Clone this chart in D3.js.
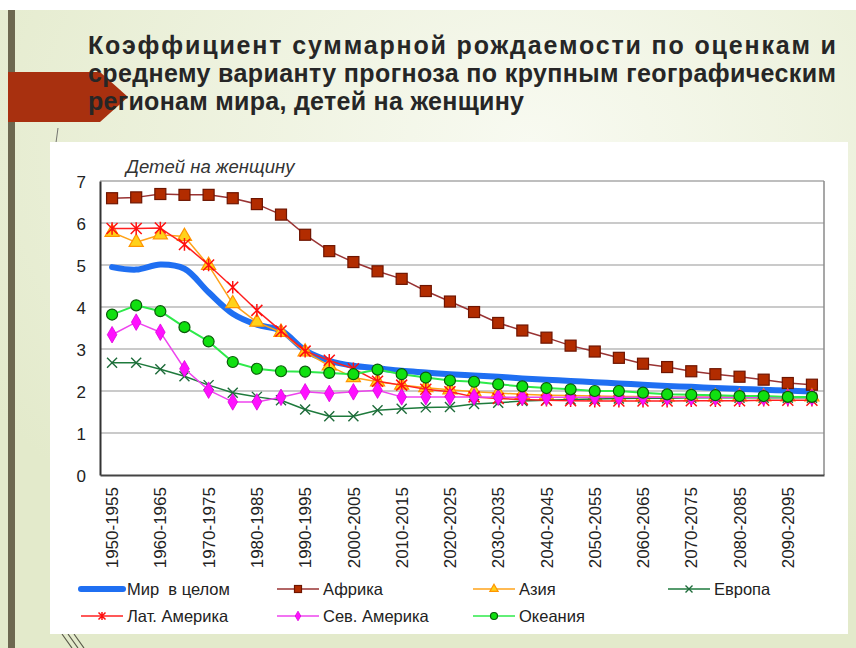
<!DOCTYPE html>
<html>
<head>
<meta charset="utf-8">
<script src="https://cdn.jsdelivr.net/npm/d3@7"></script>
<style>
  body { margin: 0; overflow: hidden; }
  text { font-family: "Liberation Sans", Arial, sans-serif; }
</style>
</head>
<body>
<div id="chart"></div>
<script>
var w = 856;
var h = 648;

// periods (x categories)
var categories = [
  "1950-1955", "1955-1960", "1960-1965", "1965-1970", "1970-1975", "1975-1980",
  "1980-1985", "1985-1990", "1990-1995", "1995-2000", "2000-2005", "2005-2010",
  "2010-2015", "2015-2020", "2020-2025", "2025-2030", "2030-2035", "2035-2040",
  "2040-2045", "2045-2050", "2050-2055", "2055-2060", "2060-2065", "2065-2070",
  "2070-2075", "2075-2080", "2080-2085", "2085-2090", "2090-2095", "2095-2100"
];
var tickLabels = [
  "1950-1955", "1960-1965", "1970-1975", "1980-1985", "1990-1995",
  "2000-2005", "2010-2015", "2020-2025", "2030-2035", "2040-2045",
  "2050-2055", "2060-2065", "2070-2075", "2080-2085", "2090-2095"
];
var yTicks = [0, 1, 2, 3, 4, 5, 6, 7];

// children per woman
var world = [4.95, 4.89, 5.01, 4.91, 4.35, 3.84, 3.58, 3.44, 2.97, 2.72, 2.60, 2.54, 2.48, 2.44, 2.40,
  2.37, 2.34, 2.30, 2.27, 2.24, 2.21, 2.18, 2.15, 2.12, 2.10, 2.07, 2.05, 2.03, 2.01, 1.99];
var africa = [6.59, 6.61, 6.69, 6.67, 6.67, 6.59, 6.45, 6.20, 5.72, 5.33, 5.07, 4.85, 4.67, 4.38, 4.13,
  3.88, 3.62, 3.44, 3.27, 3.08, 2.94, 2.79, 2.65, 2.57, 2.47, 2.40, 2.34, 2.27, 2.19, 2.15];
var asia = [5.78, 5.54, 5.72, 5.68, 4.99, 4.08, 3.64, 3.40, 2.93, 2.60, 2.32, 2.22, 2.14, 2.08, 2.03,
  1.98, 1.95, 1.92, 1.90, 1.89, 1.88, 1.87, 1.87, 1.86, 1.86, 1.86, 1.86, 1.86, 1.86, 1.86];
var europe = [2.67, 2.67, 2.52, 2.35, 2.14, 1.96, 1.86, 1.78, 1.56, 1.40, 1.40, 1.54, 1.58, 1.61, 1.62,
  1.69, 1.72, 1.76, 1.78, 1.80, 1.81, 1.82, 1.83, 1.83, 1.84, 1.84, 1.84, 1.84, 1.84, 1.84];
var latAmerica = [5.87, 5.87, 5.88, 5.49, 5.00, 4.47, 3.92, 3.43, 2.95, 2.73, 2.53, 2.23, 2.14, 2.04, 1.98,
  1.86, 1.82, 1.80, 1.78, 1.77, 1.76, 1.76, 1.76, 1.76, 1.77, 1.77, 1.77, 1.78, 1.78, 1.78];
var northAmerica = [3.34, 3.64, 3.40, 2.53, 2.02, 1.74, 1.74, 1.85, 1.98, 1.94, 1.98, 2.02, 1.86, 1.86, 1.86,
  1.86, 1.85, 1.85, 1.85, 1.85, 1.85, 1.85, 1.85, 1.85, 1.85, 1.85, 1.85, 1.85, 1.85, 1.85];
var oceania = [3.82, 4.04, 3.90, 3.52, 3.18, 2.69, 2.53, 2.47, 2.46, 2.43, 2.40, 2.51, 2.40, 2.32, 2.25,
  2.22, 2.16, 2.11, 2.07, 2.04, 2.00, 2.00, 1.96, 1.92, 1.91, 1.90, 1.88, 1.88, 1.86, 1.86];

var seriesNames = ["Мир  в целом", "Африка", "Азия", "Европа", "Лат. Америка", "Сев. Америка", "Океания"];

var titleLines = [
  "Коэффициент суммарной рождаемости по оценкам и",
  "среднему варианту прогноза по крупным географическим",
  "регионам мира, детей на женщину"
];
var yTitle = "Детей на женщину";

var series = [
  { name: seriesNames[0], values: world, color: "#1f6ff2", width: 6, marker: null, smooth: true },
  { name: seriesNames[1], values: africa, color: "#993333", width: 1.5, marker: "square", fill: "#b22c00", stroke: "#6e1500" },
  { name: seriesNames[2], values: asia, color: "#ffa31a", width: 1.5, marker: "triangle", fill: "#ffd21a", stroke: "#ff9500" },
  { name: seriesNames[3], values: europe, color: "#1e7a3c", width: 1.5, marker: "x", stroke: "#1e6b3a" },
  { name: seriesNames[4], values: latAmerica, color: "#ff2020", width: 1.5, marker: "star", stroke: "#ff1010" },
  { name: seriesNames[5], values: northAmerica, color: "#ee44ee", width: 1.5, marker: "diamond", fill: "#ff10ff", stroke: "#dd00dd" },
  { name: seriesNames[6], values: oceania, color: "#2eea4a", width: 2, marker: "circle", fill: "#10e010", stroke: "#0a5a0a" }
];

var svg = d3
  .select("#chart")
  .append("svg")
  .attr("width", w)
  .attr("height", h);

// slide background
var defs = svg.append("defs");
var grad = defs.append("radialGradient")
  .attr("id", "bg")
  .attr("cx", "62%")
  .attr("cy", "22%")
  .attr("r", "75%");
grad.append("stop").attr("offset", "0%").attr("stop-color", "#f8faf1");
grad.append("stop").attr("offset", "100%").attr("stop-color", "#e3eacb");

svg.append("rect").attr("width", w).attr("height", h).attr("fill", "url(#bg)");
svg.append("rect").attr("width", w).attr("height", 10).attr("fill", "#ffffff");
svg.append("rect").attr("x", 8).attr("y", 10).attr("width", 7).attr("height", h - 10).attr("fill", "#6d6850");

svg.append("polygon")
  .attr("points", "8,72 100,72 128,97 100,122 8,122")
  .attr("fill", "#a8300f");

// thin decorative strokes
svg.append("line").attr("x1", 58).attr("y1", 128).attr("x2", 55).attr("y2", 150)
  .attr("stroke", "#555").attr("stroke-width", 0.8);
svg.append("path").attr("d", "M62,634 L72,648 M68,634 L78,648 M74,634 L84,648")
  .attr("stroke", "#5a5a4a").attr("stroke-width", 1.2).attr("fill", "none");

// title
var title = svg.append("g").attr("fill", "#262626")
  .style("font-family", "Lato, 'Open Sans', sans-serif")
  .style("font-weight", "bold")
  .style("font-size", "25px");
var titleWidths = [748, 748, 436];
var titleY = [54, 82, 110];
titleLines.forEach(function(t, i) {
  title.append("text")
    .attr("x", 88)
    .attr("y", titleY[i])
    .attr("textLength", titleWidths[i])
    .attr("lengthAdjust", "spacing")
    .text(t);
});

// white chart box
svg.append("rect")
  .attr("x", 50).attr("y", 142)
  .attr("width", 798).attr("height", 492)
  .attr("fill", "#ffffff");

var x = d3
  .scaleBand()
  .domain(categories)
  .range([100, 824]);

var y = d3
  .scaleLinear()
  .domain([0, 7])
  .range([475, 181]);

function cx(i) {
  return x(categories[i]) + x.bandwidth() / 2;
}

// gridlines
svg.append("g")
  .selectAll("line")
  .data(yTicks.filter(function(d) { return d > 0 && d < 7; }))
  .enter()
  .append("line")
  .attr("x1", 100).attr("x2", 824)
  .attr("y1", function(d) { return y(d); })
  .attr("y2", function(d) { return y(d); })
  .attr("stroke", "#b8b8b8")
  .attr("stroke-width", 1.5);

// frame
svg.append("line").attr("x1", 100).attr("x2", 824).attr("y1", y(7)).attr("y2", y(7))
  .attr("stroke", "#a8a8a8").attr("stroke-width", 1.5);
svg.append("line").attr("x1", 824).attr("x2", 824).attr("y1", y(7)).attr("y2", y(0))
  .attr("stroke", "#8a8a8a").attr("stroke-width", 1.5);

// Y axis
var yAxis = d3.axisLeft(y).tickValues(yTicks).tickSize(0).tickPadding(14).tickFormat(d3.format("d"));
var gy = svg.append("g")
  .attr("class", "y axis")
  .attr("transform", "translate(100,0)")
  .call(yAxis);
gy.select(".domain").attr("stroke", "#333").attr("stroke-width", 2);
gy.selectAll("text")
  .attr("fill", "#222")
  .style("font-size", "17px")
  .attr("dy", "0.36em");

// X axis
var xAxis = d3.axisBottom(x).tickValues(tickLabels).tickSize(0);
var gx = svg.append("g")
  .attr("class", "x axis")
  .attr("transform", "translate(0," + y(0) + ")")
  .call(xAxis);
gx.select(".domain").attr("stroke", "#444").attr("stroke-width", 2);
gx.selectAll("text")
  .attr("fill", "#222")
  .style("font-size", "17px")
  .attr("transform", "rotate(-90)")
  .attr("text-anchor", "end")
  .attr("x", -12)
  .attr("y", 0)
  .attr("dy", "0.36em");

svg.append("text")
  .attr("x", 126)
  .attr("y", 173)
  .attr("fill", "#333")
  .style("font-size", "18.5px")
  .style("font-style", "italic")
  .text(yTitle);

// markers
function drawMarker(g, type, s, sz) {
  var m;
  if (type === "square") {
    m = g.append("rect").attr("x", -sz / 2).attr("y", -sz / 2).attr("width", sz).attr("height", sz)
      .attr("fill", s.fill).attr("stroke", s.stroke).attr("stroke-width", 1.2);
  } else if (type === "triangle") {
    m = g.append("path").attr("d", d3.symbol().type(d3.symbolTriangle).size(sz * sz * 0.6)())
      .attr("fill", s.fill).attr("stroke", s.stroke).attr("stroke-width", 1.2);
  } else if (type === "diamond") {
    m = g.append("path").attr("d", d3.symbol().type(d3.symbolDiamond).size(sz * sz * 0.55)())
      .attr("fill", s.fill).attr("stroke", s.stroke).attr("stroke-width", 0.8);
  } else if (type === "circle") {
    m = g.append("circle").attr("r", sz / 2)
      .attr("fill", s.fill).attr("stroke", s.stroke).attr("stroke-width", 1.2);
  } else if (type === "x") {
    var a = sz / 2;
    m = g.append("path").attr("d", "M" + -a + "," + -a + "L" + a + "," + a + "M" + -a + "," + a + "L" + a + "," + -a)
      .attr("fill", "none").attr("stroke", s.stroke).attr("stroke-width", 1.4);
  } else if (type === "star") {
    var b = sz / 2;
    m = g.append("path").attr("d", "M" + -b + "," + -b + "L" + b + "," + b + "M" + -b + "," + b + "L" + b + "," + -b +
      "M0," + -b * 1.15 + "L0," + b * 1.15)
      .attr("fill", "none").attr("stroke", s.stroke).attr("stroke-width", 1.5);
  }
  return m;
}

var straight = d3.line()
  .x(function(d, i) { return cx(i); })
  .y(function(d) { return y(d); });

var smooth = d3.line()
  .x(function(d, i) { return cx(i); })
  .y(function(d) { return y(d); })
  .curve(d3.curveCatmullRom.alpha(0.5));

series.forEach(function(s) {
  svg.append("path")
    .datum(s.values)
    .attr("d", s.smooth ? smooth : straight)
    .attr("fill", "none")
    .attr("stroke", s.color)
    .attr("stroke-width", s.width)
    .attr("stroke-linejoin", "round")
    .attr("stroke-linecap", "round");

  if (s.marker) {
    var sizes = { square: 11, triangle: 12, diamond: 12, circle: 11, x: 10, star: 11 };
    s.values.forEach(function(v, i) {
      var g = svg.append("g").attr("transform", "translate(" + cx(i) + "," + y(v) + ")");
      drawMarker(g, s.marker, s, sizes[s.marker]);
    });
  }
});

// legend
var legendX = [81, 277, 473, 668];
var legendY = [589, 616];
series.forEach(function(s, i) {
  var col = i < 4 ? i : i - 4;
  var row = i < 4 ? 0 : 1;
  var g = svg.append("g").attr("transform", "translate(" + legendX[col] + "," + legendY[row] + ")");
  g.append("line")
    .attr("x1", 0).attr("x2", 42)
    .attr("stroke", s.color)
    .attr("stroke-width", s.width === 6 ? 6 : 1.5)
    .attr("stroke-linecap", s.width === 6 ? "round" : "butt");
  if (s.marker) {
    var g2 = g.append("g").attr("transform", "translate(21,0)");
    drawMarker(g2, s.marker, s, 7);
  }
  g.append("text")
    .attr("x", 46)
    .attr("dy", "0.36em")
    .attr("fill", "#222")
    .style("font-size", "16.5px")
    .style("white-space", "pre")
    .text(s.name);
});
</script>
</body>
</html>
